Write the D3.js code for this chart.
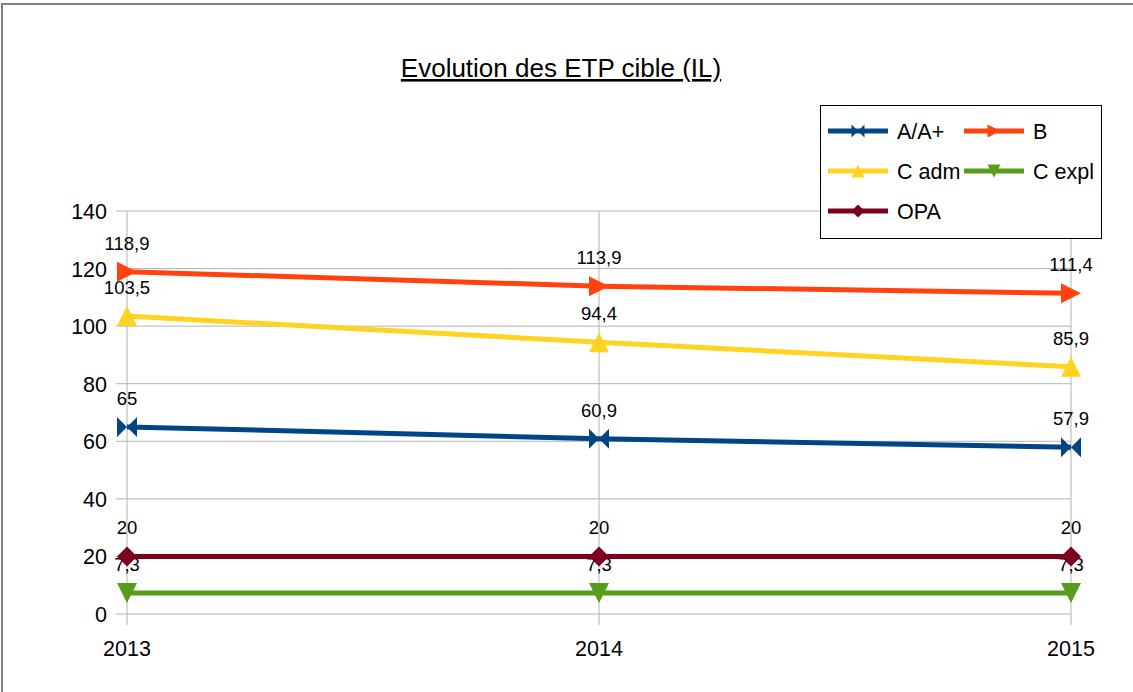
<!DOCTYPE html>
<html>
<head>
<meta charset="utf-8">
<script src="https://cdn.jsdelivr.net/npm/d3@7"></script>
<style>
  body { margin: 0; background: #fff; }
  svg { font-family: "Liberation Sans", Arial, sans-serif; display: block; }
</style>
</head>
<body>
<svg></svg>
<script>
// data
const years = ["2013", "2014", "2015"];
const seriesNames = ["A/A+", "B", "C adm", "C expl", "OPA"];
const valuesAA = [65, 60.9, 57.9];
const valuesB = [118.9, 113.9, 111.4];
const valuesCadm = [103.5, 94.4, 85.9];
const valuesCexpl = [7.3, 7.3, 7.3];
const valuesOPA = [20, 20, 20];
const yTicks = [0, 20, 40, 60, 80, 100, 120, 140];
const seriesColors = ["#004586", "#ff420e", "#ffd320", "#579d1c", "#7e0021"];
const seriesMarkers = ["bowtie", "right", "up", "down", "diamond"];

const series = seriesNames.map((name, i) => ({
  name: name,
  values: [valuesAA, valuesB, valuesCadm, valuesCexpl, valuesOPA][i],
  color: seriesColors[i],
  marker: seriesMarkers[i]
}));

const svg = d3.select("svg").attr("width", 1133).attr("height", 692);

// chart border
svg.append("path")
  .attr("d", "M2,692 V4 H1133")
  .attr("fill", "none")
  .attr("stroke", "#808080")
  .attr("stroke-width", 2);

// title
svg.append("text")
  .attr("x", 561)
  .attr("y", 77)
  .attr("text-anchor", "middle")
  .style("font-size", "26px")
  .style("text-decoration", "underline")
  .attr("fill", "#000")
  .text("Evolution des ETP cible (IL)");

// scales
const x = d3.scalePoint().domain(years).range([127, 1071]);
const y = d3.scaleLinear().domain([0, 140]).range([614, 211]);

// gridlines
svg.append("g")
  .selectAll("line")
  .data(yTicks)
  .enter()
  .append("line")
  .attr("x1", 116)
  .attr("x2", 1071)
  .attr("y1", d => y(d))
  .attr("y2", d => y(d))
  .attr("stroke", "#b3b3b3")
  .attr("stroke-width", 1);

svg.append("g")
  .selectAll("line")
  .data(years)
  .enter()
  .append("line")
  .attr("x1", d => x(d))
  .attr("x2", d => x(d))
  .attr("y1", y(140))
  .attr("y2", 625)
  .attr("stroke", "#b3b3b3")
  .attr("stroke-width", 1);

// y tick labels
svg.append("g")
  .selectAll("text")
  .data(yTicks)
  .enter()
  .append("text")
  .attr("x", 107)
  .attr("y", d => y(d) + 8)
  .attr("text-anchor", "end")
  .style("font-size", "21.5px")
  .text(d => d);

// x tick labels
svg.append("g")
  .selectAll("text")
  .data(years)
  .enter()
  .append("text")
  .attr("x", d => x(d))
  .attr("y", 656)
  .attr("text-anchor", "middle")
  .style("font-size", "21.5px")
  .text(d => d);

// marker shapes
function markerPath(type, s) {
  const h = s / 2;
  if (type === "bowtie") return `M${-h},${-h} L0,0 L${-h},${h} Z M${h},${-h} L0,0 L${h},${h} Z`;
  if (type === "right") return `M${-h},${-h} L${h},0 L${-h},${h} Z`;
  if (type === "up") return `M0,${-h} L${h},${h} L${-h},${h} Z`;
  if (type === "down") return `M${-h},${-h} L${h},${-h} L0,${h} Z`;
  return `M0,${-h} L${h},0 L0,${h} L${-h},0 Z`;
}

const lineGen = d3.line()
  .x((d, i) => x(years[i]))
  .y(d => y(d));

const fmt = v => String(v).replace(".", ",");

const seriesGroups = svg.selectAll("g.series")
  .data(series)
  .enter()
  .append("g")
  .attr("class", "series");

seriesGroups.append("path")
  .attr("d", d => lineGen(d.values))
  .attr("fill", "none")
  .attr("stroke", d => d.color)
  .attr("stroke-width", 5);

seriesGroups.each(function (s) {
  const g = d3.select(this);
  g.selectAll("path.mk")
    .data(s.values)
    .enter()
    .append("path")
    .attr("class", "mk")
    .attr("transform", (d, i) => `translate(${x(years[i])},${y(d)})`)
    .attr("d", markerPath(s.marker, 20))
    .attr("fill", s.color);
});

// data labels
seriesGroups.each(function (s) {
  const g = d3.select(this);
  g.selectAll("text.lbl")
    .data(s.values)
    .enter()
    .append("text")
    .attr("class", "lbl")
    .attr("x", (d, i) => x(years[i]))
    .attr("y", d => y(d) - 22)
    .attr("text-anchor", "middle")
    .style("font-size", "18.5px")
    .text(d => fmt(d));
});

// legend
const legend = svg.append("g").attr("transform", "translate(820,105)");
legend.append("rect")
  .attr("x", 0.5)
  .attr("y", 0.5)
  .attr("width", 281)
  .attr("height", 133)
  .attr("fill", "#fff")
  .attr("stroke", "#000")
  .attr("stroke-width", 1);

const legendItems = legend.selectAll("g.item")
  .data(series)
  .enter()
  .append("g")
  .attr("class", "item")
  .attr("transform", (d, i) => `translate(${8 + (i % 2) * 136},${26 + Math.floor(i / 2) * 40})`);

legendItems.append("line")
  .attr("x1", 0)
  .attr("x2", 60)
  .attr("stroke", d => d.color)
  .attr("stroke-width", 5);

legendItems.append("path")
  .attr("transform", "translate(30,0)")
  .attr("d", d => markerPath(d.marker, 13))
  .attr("fill", d => d.color);

legendItems.append("text")
  .attr("x", 69)
  .attr("y", 8)
  .style("font-size", "21.5px")
  .text(d => d.name);
</script>
</body>
</html>
